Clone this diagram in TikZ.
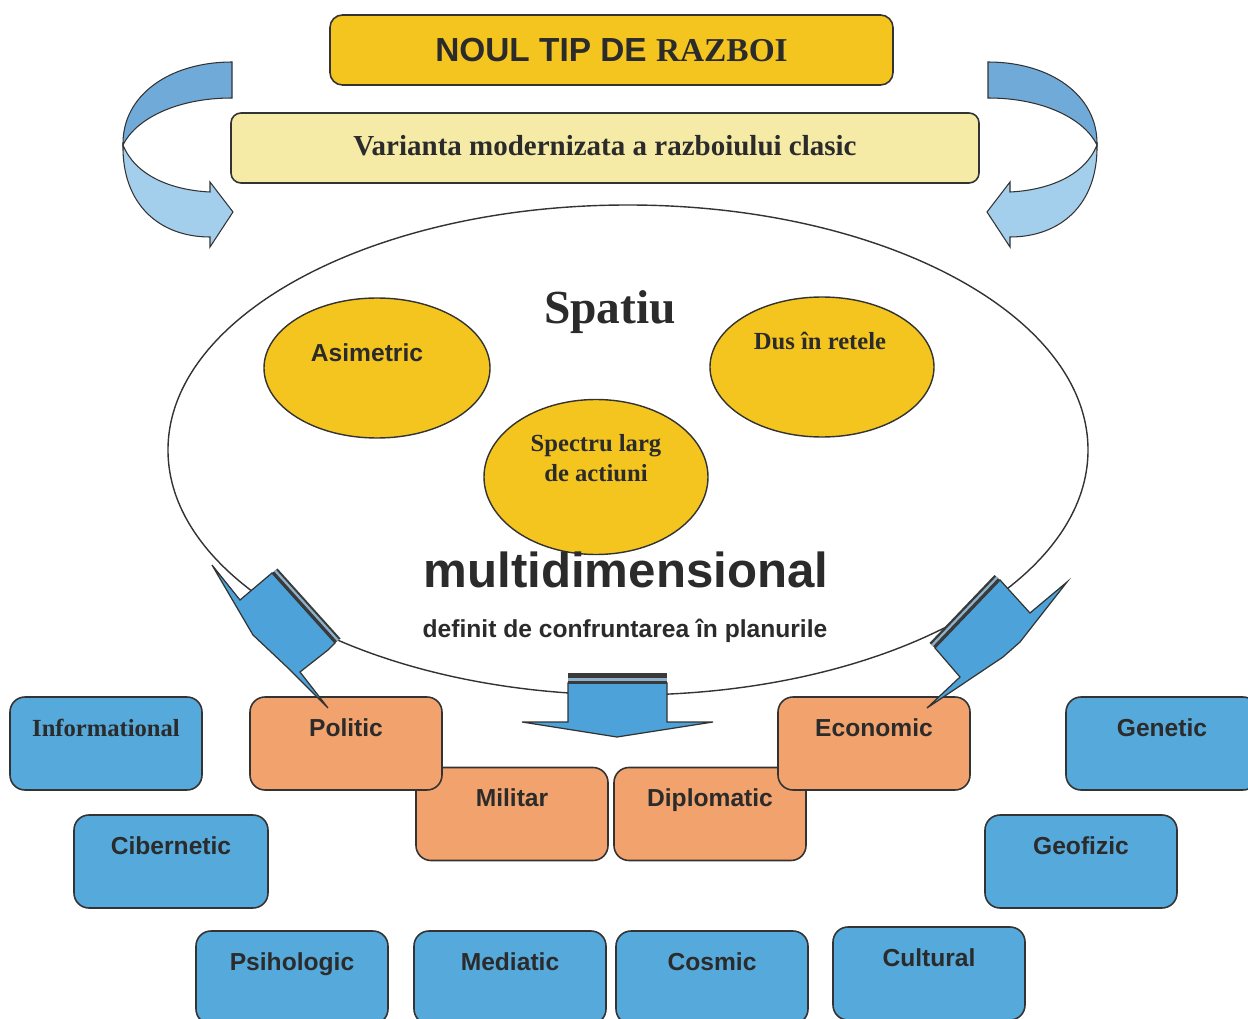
\documentclass[tikz,border=0pt]{standalone}
\usepackage{fontspec}
\setmainfont{Liberation Serif}
\setsansfont{Liberation Sans}
\usetikzlibrary{shapes.geometric}
\definecolor{gold}{HTML}{F4C51F}
\definecolor{paleyel}{HTML}{F5EAA6}
\definecolor{boxblue}{HTML}{55A9DB}
\definecolor{boxorange}{HTML}{F2A26C}
\definecolor{arrowblue}{HTML}{4DA3D9}
\definecolor{ribdark}{HTML}{6FAAD9}
\definecolor{riblight}{HTML}{A3CFEC}
\definecolor{txt}{HTML}{2B2B2B}
\definecolor{edgec}{HTML}{333333}
\definecolor{stripec}{HTML}{3A3A3A}
\definecolor{stripelight}{HTML}{8DB2CC}
\tikzset{
 tile/.style={draw=edgec, line width=0.9pt, rounded corners=3mm, minimum width=38.4mm, minimum height=18.6mm, inner sep=0pt, outer sep=0pt, text height=7.8mm, text depth=10.8mm, text=txt},
 sanslbl/.style={font=\sffamily\bfseries\fontsize{14}{17}\selectfont, text=txt},
 seriflbl/.style={font=\rmfamily\bfseries\fontsize{14}{17}\selectfont, text=txt},
 btile/.style={tile, fill=boxblue, sanslbl},
 otile/.style={tile, fill=boxorange, sanslbl},
 yel/.style={ellipse, draw=edgec, line width=0.8pt, fill=gold, inner sep=0pt},
 barrow/.style={fill=arrowblue, draw=edgec, line width=0.7pt, line join=miter},
 ribup/.style={fill=ribdark, draw=edgec, line width=0.6pt},
 riblow/.style={fill=riblight, draw=edgec, line width=0.6pt},
}
\begin{document}
\begin{tikzpicture}[x=0.2mm,y=-0.2mm]
\useasboundingbox (0,0) rectangle (1248,1019);
\clip (0,0) rectangle (1248,1019);
\fill[white] (0,0) rectangle (1248,1019);

% curved ribbon arrows (left)
\filldraw[ribup] (232,62) .. controls (170,62) and (122,95) .. (123,145) .. controls (135,120) and (175,98) .. (232,98) -- cycle;
\filldraw[riblow] (123,145) .. controls (122,205) and (160,237) .. (210,237) -- (210,247) -- (233,212) -- (210,182) -- (210,192) .. controls (170,190) and (135,175) .. (123,145) -- cycle;
% (right, mirrored)
\filldraw[ribup] (988,62) .. controls (1050,62) and (1098,95) .. (1097,145) .. controls (1085,120) and (1045,98) .. (988,98) -- cycle;
\filldraw[riblow] (1097,145) .. controls (1098,205) and (1060,237) .. (1010,237) -- (1010,247) -- (987,212) -- (1010,182) -- (1010,192) .. controls (1050,190) and (1085,175) .. (1097,145) -- cycle;

% top boxes
\node[draw=edgec, line width=0.9pt, fill=gold, rounded corners=2.5mm, minimum width=112.6mm, minimum height=14mm, inner sep=0pt, text=txt, font=\bfseries\fontsize{19}{22}\selectfont] (title) at (611.5,50) {\sffamily NOUL TIP DE \rmfamily RAZBOI};
\node[draw=edgec, line width=0.9pt, fill=paleyel, rounded corners=2mm, minimum width=149.6mm, minimum height=14mm, inner sep=0pt, text=txt, font=\rmfamily\bfseries\fontsize{16.5}{19}\selectfont] (variant) at (605,148) {\raisebox{1mm}{Varianta modernizata a razboiului clasic}};

% big ellipse
\node[ellipse, draw=edgec, line width=0.8pt, fill=white, minimum width=184mm, minimum height=98mm, inner sep=0pt] (space) at (628,450) {};

% inner ellipses
\node[yel, minimum width=45.2mm, minimum height=28mm] (asim) at (377,368) {};
\node[yel, minimum width=44.8mm, minimum height=28mm] (dus) at (822,367) {};
\node[yel, minimum width=44.8mm, minimum height=31mm] (spectru) at (596,477) {};

\node[font=\rmfamily\bfseries\fontsize{27}{30}\selectfont, text=txt] (spatiu) at (610,312) {Spatiu};
\node[sanslbl] (asimT) at (367,353) {Asimetric};
\node[seriflbl] (dusT) at (820,341) {Dus în retele};
\node[seriflbl, align=center] (spectruT) at (596,458) {Spectru larg\\de actiuni};
\node[font=\sffamily\bfseries\fontsize{28}{31}\selectfont, text=txt] (multi) at (626,570) {multidimensional};
\node[sanslbl] (definit) at (625,631) {definit de confruntarea în planurile};

% boxes
\node[otile] (militar) at (512,814) {Militar};
\node[otile] (diplomatic) at (710,814) {Diplomatic};
\node[btile, seriflbl] (informational) at (106,743.5) {Informational};
\node[otile] (politic) at (346,743.5) {Politic};
\node[otile] (economic) at (874,743.5) {Economic};
\node[btile] (genetic) at (1162,743.5) {Genetic};
\node[btile, minimum width=38.8mm] (cibernetic) at (171,861.5) {Cibernetic};
\node[btile] (geofizic) at (1081,861.5) {Geofizic};
\node[btile] (psihologic) at (292,977.5) {Psihologic};
\node[btile] (mediatic) at (510,977.5) {Mediatic};
\node[btile] (cosmic) at (712,977.5) {Cosmic};
\node[btile] (cultural) at (929,973.5) {Cultural};

% block arrows
% left
\path[barrow] (212,565) -- (240,600) -- (272,573) -- (335,643) -- (328,650) -- (300,672) -- (328,708) -- (288,668) -- (253,635) -- cycle;
\fill[stripec] (272,573) -- (335,643) -- (340.5,638.5) -- (277.5,568.5) -- cycle;
\draw[stripelight, line width=0.45mm] (275,570.5) -- (338,640.5);
% right
\path[barrow] (1000,580) -- (1030,613) -- (1067,582) -- (1020,642) -- (1003,657) -- (927,708) -- (960,677) -- (935,648) -- cycle;
\fill[stripec] (935,648) -- (1000,580) -- (994.5,575) -- (929.5,643) -- cycle;
\draw[stripelight, line width=0.45mm] (932,645.5) -- (997,577.5);
% middle
\path[barrow] (568,683) -- (667,683) -- (667,722) -- (713,722) -- (617,737) -- (522,722) -- (568,722) -- cycle;
\fill[stripec] (568,673) rectangle (667,684);
\draw[stripelight, line width=0.6mm] (568,679.5) -- (667,679.5);
\end{tikzpicture}
\end{document}
